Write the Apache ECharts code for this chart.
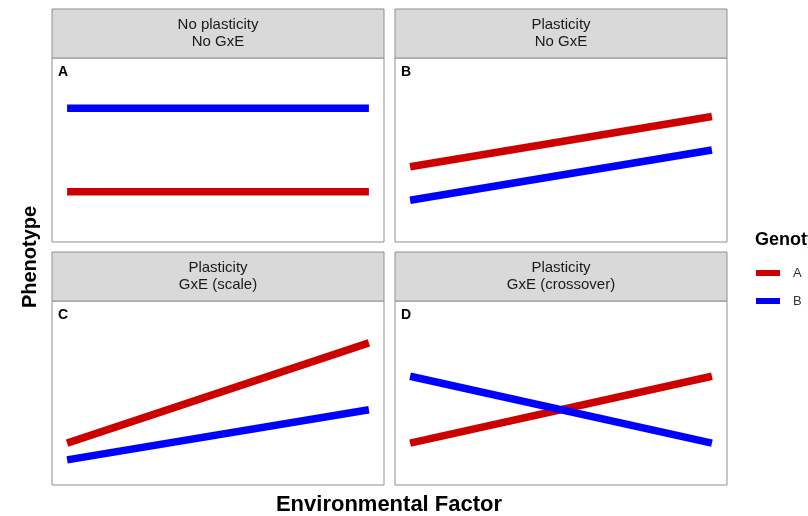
<!DOCTYPE html>
<html>
<head>
<meta charset="utf-8">
<script src="https://cdn.jsdelivr.net/npm/echarts@6/dist/echarts.min.js"></script>
<style>html,body{margin:0;padding:0;background:#fff;}#c{width:808px;height:516px;}</style>
</head>
<body>
<div id="c"></div>
<script>
// ---- data ----
const panelLetters = ['A', 'B', 'C', 'D'];
const stripLine1 = ['No plasticity', 'Plasticity', 'Plasticity', 'Plasticity'];
const stripLine2 = ['No GxE', 'No GxE', 'GxE (scale)', 'GxE (crossover)'];
const envFactor = [0, 10];
const genotypeA = [[2.5, 2.5], [4, 7], [2, 8], [2, 6]];
const genotypeB = [[7.5, 7.5], [2, 5], [1, 4], [6, 2]];
const genotypeNames = ['A', 'B'];
const xTitle = 'Environmental Factor';
const yTitle = 'Phenotype';
const legendTitle = 'Genotype';

// ---- layout ----
const colLeft = [52, 395];
const rowTop = [58, 301];
const plotW = 332, plotH = 184, stripH = 49;
const colA = '#cd0000', colB = '#0000ff';
const font = 'Liberation Sans, Arial, Helvetica, sans-serif';

const grids = [], xAxes = [], yAxes = [], series = [], graphics = [];
panelLetters.forEach((L, i) => {
  const left = colLeft[i % 2], top = rowTop[Math.floor(i / 2)];
  grids.push({left: left, top: top, width: plotW, height: plotH, show: true,
    borderColor: '#8f8f8f', borderWidth: 1, backgroundColor: '#fff', containLabel: false});
  xAxes.push({type: 'value', gridIndex: i, min: -0.5, max: 10.5, show: false});
  yAxes.push({type: 'value', gridIndex: i, min: -0.5, max: 10.5, show: false});
  series.push({name: genotypeNames[0], type: 'line', xAxisIndex: i, yAxisIndex: i,
    data: envFactor.map((x, k) => [x, genotypeA[i][k]]), showSymbol: false, symbol: 'none',
    lineStyle: {color: colA, width: 7.5, cap: 'butt'}, itemStyle: {color: colA}, silent: true, animation: false});
  series.push({name: genotypeNames[1], type: 'line', xAxisIndex: i, yAxisIndex: i,
    data: envFactor.map((x, k) => [x, genotypeB[i][k]]), showSymbol: false, symbol: 'none',
    lineStyle: {color: colB, width: 7.5, cap: 'butt'}, itemStyle: {color: colB}, silent: true, animation: false});
  // strip
  graphics.push({type: 'rect', shape: {x: left, y: top - stripH, width: plotW, height: stripH},
    style: {fill: '#d9d9d9', stroke: '#8f8f8f', lineWidth: 1}, z: 10});
  graphics.push({type: 'text', x: left + plotW / 2, y: top - stripH / 2,
    style: {text: stripLine1[i] + '\n' + stripLine2[i], fill: '#1a1a1a', font: '15px ' + font,
      align: 'center', verticalAlign: 'middle', lineHeight: 17.5}, z: 11});
  // panel tag
  graphics.push({type: 'text', x: left + 6, y: top + 14,
    style: {text: L, fill: '#000', font: 'bold 14px ' + font, align: 'left', verticalAlign: 'middle'}, z: 11});
});

graphics.push({type: 'text', x: 389, y: 505,
  style: {text: xTitle, fill: '#000', font: 'bold 22px ' + font, align: 'center', verticalAlign: 'middle'}});
graphics.push({type: 'text', x: 30, y: 257, rotation: Math.PI / 2,
  style: {text: yTitle, fill: '#000', font: 'bold 20px ' + font, align: 'center', verticalAlign: 'middle'}});
graphics.push({type: 'text', x: 755, y: 240,
  style: {text: legendTitle, fill: '#000', font: 'bold 18px ' + font, align: 'left', verticalAlign: 'middle'}});

const chart = echarts.init(document.getElementById('c'), null, {renderer: 'canvas'});
chart.setOption({
  animation: false,
  backgroundColor: '#fff',
  grid: grids,
  xAxis: xAxes,
  yAxis: yAxes,
  series: series,
  legend: {data: genotypeNames, orient: 'vertical', left: 756, top: 266, padding: 0,
    itemGap: 14, itemWidth: 24, itemHeight: 6, icon: 'rect',
    textStyle: {fontSize: 13, color: '#333', fontFamily: font, lineHeight: 14, padding: [0, 0, 0, 8]}},
  graphic: graphics
});
</script>
</body>
</html>
